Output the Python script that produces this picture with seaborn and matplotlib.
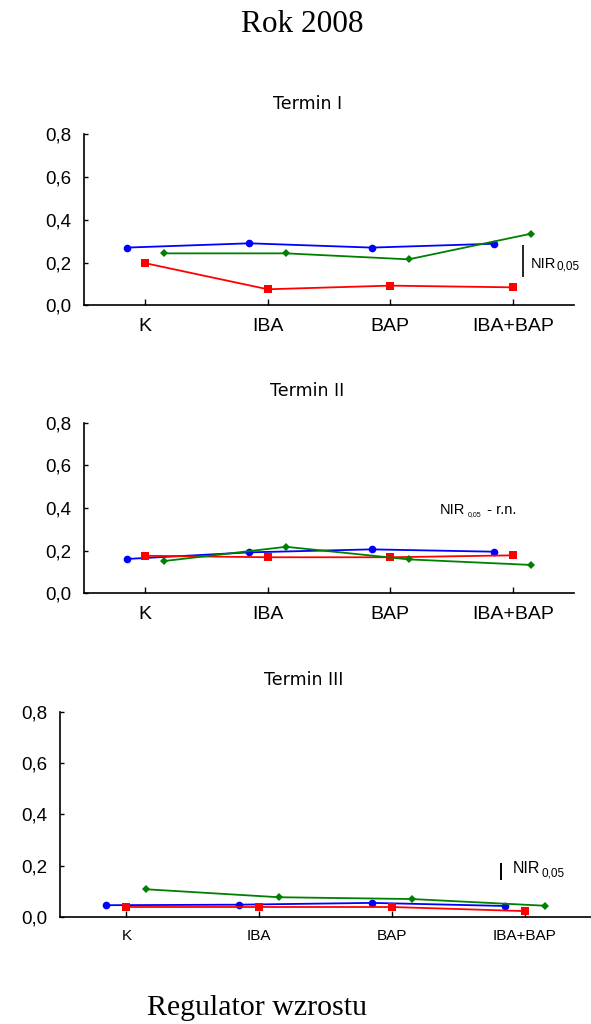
import numpy as np
import pandas as pd
import matplotlib
matplotlib.use("Agg")
import matplotlib.pyplot as plt
from matplotlib.ticker import FuncFormatter, FixedLocator
import seaborn as sns

# ---------------- data ----------------
regulators = ["K", "IBA", "BAP", "IBA+BAP"]
series_names = ["seria 1", "seria 2", "seria 3"]
series_colors = ["#0000ff", "#ff0000", "#008000"]
series_markers = ["o", "s", "D"]

panel_titles = ["Termin I", "Termin II", "Termin III"]

t1_blue = [0.27, 0.29, 0.27, 0.288]
t1_red = [0.197, 0.075, 0.092, 0.084]
t1_green = [0.243, 0.243, 0.215, 0.335]

t2_blue = [0.161, 0.192, 0.206, 0.195]
t2_red = [0.176, 0.169, 0.169, 0.178]
t2_green = [0.151, 0.218, 0.159, 0.133]

t3_blue = [0.046, 0.048, 0.055, 0.043]
t3_red = [0.039, 0.039, 0.039, 0.023]
t3_green = [0.108, 0.077, 0.070, 0.044]

# LSD (NIR 0,05) values; None = not significant (r.n.)
nir_values = [0.15, None, 0.065]

y_ticks = [0.0, 0.2, 0.4, 0.6, 0.8]

panels = [
    [t1_blue, t1_red, t1_green],
    [t2_blue, t2_red, t2_green],
    [t3_blue, t3_red, t3_green],
]

# ---------------- style ----------------
sns.set_style("white")
plt.rcParams["font.family"] = ["Liberation Sans", "DejaVu Sans"]
plt.rcParams["text.color"] = "black"
plt.rcParams["axes.labelcolor"] = "black"
plt.rcParams["xtick.color"] = "black"
plt.rcParams["ytick.color"] = "black"

fig = plt.figure(figsize=(5.91, 10.24), dpi=100)

W, H = 591.0, 1024.0
# axes rectangles in pixels: left, right, top, bottom
rects_px = [
    (84, 574, 134.3, 305.3),
    (84, 574, 422.7, 593.3),
    (60, 591, 711.7, 917.0),
]
title_pos = [(0.457, 1.146), (0.456, 1.157), (0.4595, 1.130)]
xtick_size = [14, 14, 11]

comma = FuncFormatter(lambda v, p: f"{v:.1f}".replace(".", ","))

for i, (vals, (l, r, t, b)) in enumerate(zip(panels, rects_px)):
    ax = fig.add_axes([l / W, 1 - b / H, (r - l) / W, (b - t) / H])
    df = pd.DataFrame({
        "Regulator": regulators * len(series_names),
        "value": np.concatenate(vals),
        "series": np.repeat(series_names, len(regulators)),
    })
    sns.pointplot(
        data=df, x="Regulator", y="value", hue="series",
        order=regulators, hue_order=series_names,
        palette=series_colors, markers=series_markers,
        linestyles=["-", "-", "-"], dodge=0.3, errorbar=None,
        legend=False, ax=ax, markersize=5, linewidth=1.3,
    )
    msizes = [5.5, 5.6, 4.0]
    for ln, ms in zip(ax.lines, msizes):
        ln.set_markersize(ms)
        ln.set_markeredgewidth(0)

    ax.set_xlim(-0.5, len(regulators) - 0.5)
    ax.set_ylim(0, 0.8)
    ax.yaxis.set_major_locator(FixedLocator(y_ticks))
    ax.yaxis.set_major_formatter(comma)
    ax.set_xlabel("")
    ax.set_ylabel("")
    for s in ["top", "right"]:
        ax.spines[s].set_visible(False)
    for s in ["left", "bottom"]:
        ax.spines[s].set_color("black")
        ax.spines[s].set_linewidth(1.2)
    ax.tick_params(axis="y", direction="in", length=3, width=1, pad=9,
                   labelsize=13.5, colors="black", left=True)
    ax.tick_params(axis="x", direction="in", length=4, width=1, pad=9,
                   labelsize=xtick_size[i], colors="black", bottom=True)
    ax.set_title(panel_titles[i], x=title_pos[i][0], y=title_pos[i][1], pad=0,
                 fontsize=12.5, family="DejaVu Sans", va="baseline", color="black")

    # NIR annotation
    if i == 0:
        nx, ny0 = 3.08, 0.131
        ax.vlines(nx, ny0, ny0 + nir_values[0], color="black", linewidth=1.2)
        tn = ax.text(nx + 0.065, 0.193, "NIR", fontsize=10.5, va="center", ha="left")
        ax.annotate("0,05", xy=(1.0, 0.0), xycoords=tn, xytext=(0.5, -1),
                    textcoords="offset points", fontsize=8.5, va="bottom", ha="left")
    elif i == 1:
        tn = ax.text(2.406, 0.39, "NIR", fontsize=10.5, va="center", ha="left")
        ts = ax.annotate("0,05", xy=(1.0, 0.0), xycoords=tn, xytext=(2, -1),
                         textcoords="offset points", fontsize=5, va="bottom", ha="left")
        ax.annotate(" - r.n.", xy=(1.0, 0.0), xycoords=ts, xytext=(1, 1),
                    textcoords="offset points", fontsize=10.5, va="bottom", ha="left")
    else:
        nx, ny0 = 2.82, 0.144
        ax.vlines(nx, ny0, ny0 + nir_values[2], color="black", linewidth=1.4)
        tn = ax.text(nx + 0.09, 0.19, "NIR", fontsize=11.5, va="center", ha="left")
        ax.annotate("0,05", xy=(1.0, 0.0), xycoords=tn, xytext=(1, -3),
                    textcoords="offset points", fontsize=8.5, va="bottom", ha="left")

fig.text(302.5 / W, 1 - 32.3 / H, "Rok 2008", ha="center", va="baseline",
         family="Liberation Serif", fontsize=22.5)
fig.text(146.7 / W, 1 - 1015 / H, "Regulator wzrostu", ha="left", va="baseline",
         family="Liberation Serif", fontsize=21.5)

fig.savefig("out.png", dpi=100, facecolor="white")
